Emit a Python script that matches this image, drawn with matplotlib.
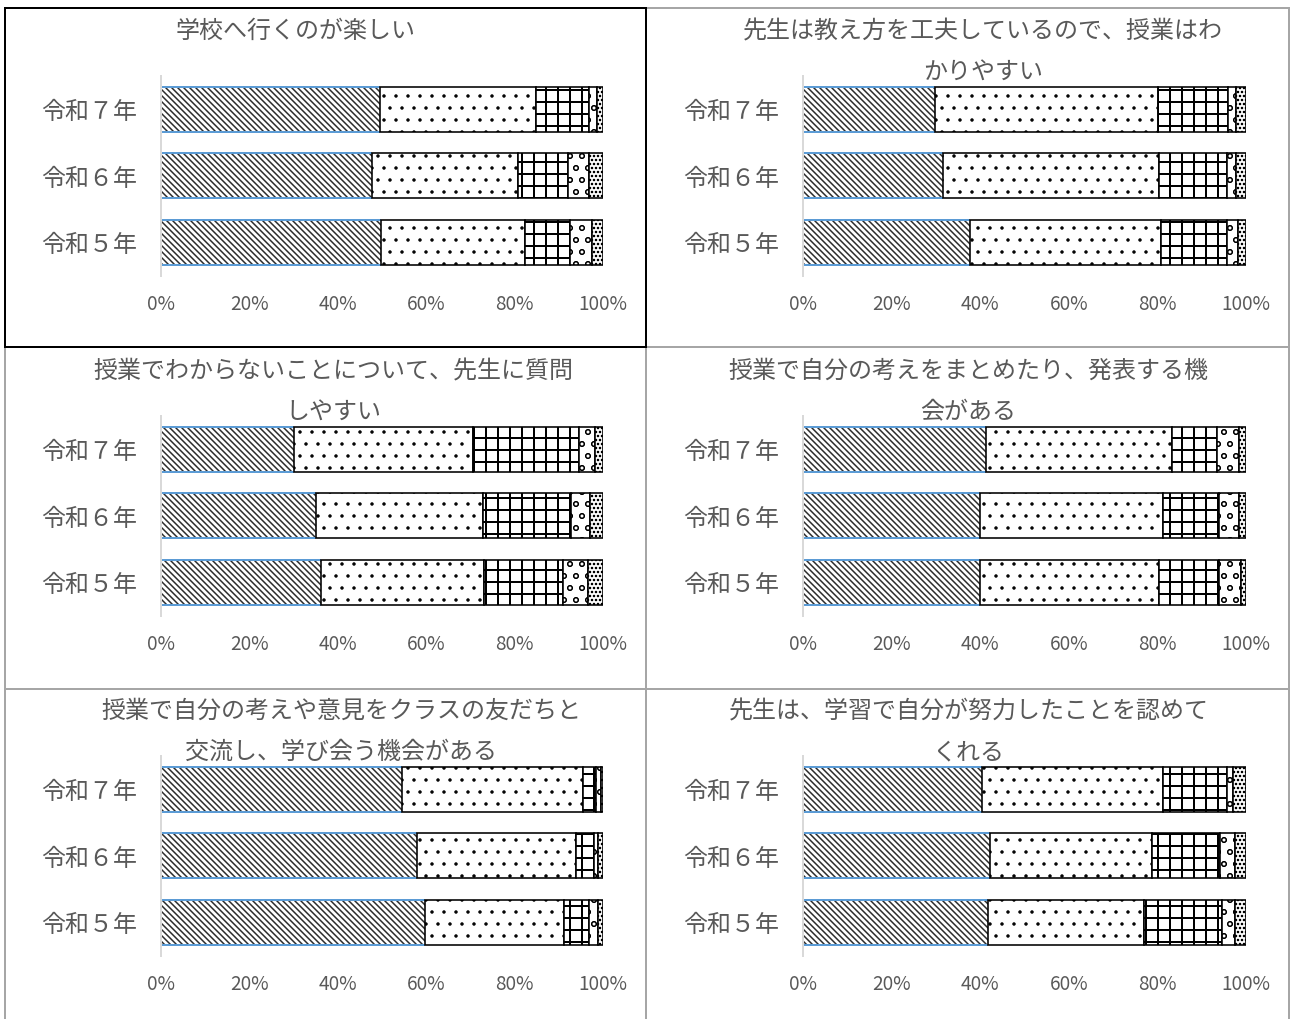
import matplotlib
matplotlib.use('Agg')
import matplotlib.pyplot as plt
from matplotlib.patches import Rectangle
import numpy as np

plt.rcParams['font.family'] = ['Noto Sans CJK JP', 'DejaVu Sans']
plt.rcParams['hatch.linewidth'] = 1.5

# ---------------- data ----------------
years = ['令和５年', '令和６年', '令和７年']          # bottom -> top
xticks = [0, 20, 40, 60, 80, 100]
xtick_labels = ['0%', '20%', '40%', '60%', '80%', '100%']

titles = [
    '学校へ行くのが楽しい',
    '先生は教え方を工夫しているので、授業はわ\nかりやすい',
    '授業でわからないことについて、先生に質問\nしやすい',
    '授業で自分の考えをまとめたり、発表する機\n会がある',
    '授業で自分の考えや意見をクラスの友だちと\n交流し、学び会う機会がある',
    '先生は、学習で自分が努力したことを認めて\nくれる',
]

# each: rows = 令和5, 令和6, 令和7 ; columns = 5 answer categories (%)
q1 = [[49.8, 32.5, 10.2, 4.9, 2.6],
      [47.7, 33.1, 11.3, 4.7, 3.2],
      [49.6, 35.3, 11.9, 1.8, 1.4]]
q2 = [[37.7, 43.0, 14.9, 2.7, 1.7],
      [31.6, 48.7, 15.3, 2.1, 2.3],
      [29.9, 50.2, 15.9, 1.8, 2.2]]
q3 = [[36.3, 36.8, 17.8, 5.7, 3.4],
      [35.1, 37.7, 20.0, 4.2, 3.0],
      [30.0, 40.6, 24.0, 3.5, 1.9]]
q4 = [[39.9, 40.5, 13.5, 4.9, 1.2],
      [39.9, 41.4, 12.6, 4.6, 1.5],
      [41.4, 41.8, 10.3, 5.0, 1.5]]
q5 = [[59.7, 31.5, 5.6, 2.1, 1.1],
      [58.0, 35.8, 4.2, 0.9, 1.1],
      [54.6, 40.9, 3.0, 1.1, 0.4]]
q6 = [[41.8, 35.2, 17.5, 3.0, 2.5],
      [42.2, 36.5, 15.4, 3.4, 2.5],
      [40.4, 40.8, 14.6, 1.2, 3.0]]
panels = [q1, q2, q3, q4, q5, q6]

# ---------------- styling ----------------
W, H, DPI = 1291, 1019, 72
TEXT = '#595959'
BLUE = '#5B9BD5'
hatches = ['\\\\\\\\', '.', '+', 'o', 'ooo']
hatch_edges = ['#2b2b2b', 'black', 'black', 'black', 'black']
hatch_lws = [1.5, 1.0, 2.0, 1.0, 0.8]
edge_lw = [0, 1.6, 1.6, 1.6, 1.6]
title_cx = [296, 983, 333, 968, 341, 969]

fig = plt.figure(figsize=(W / DPI, H / DPI), dpi=DPI)

def fx(px):
    return px / W

def fy(py):
    return 1 - py / H

col_x = [(161, 603), (803, 1246)]
bar_h = 0.67

for i, data in enumerate(panels):
    r, c = divmod(i, 2)
    off = 340 * r
    x0, x1 = col_x[c]
    top, bot = 76 + off, 275.5 + off
    ax = fig.add_axes([fx(x0), fy(bot), fx(x1 - x0), (bot - top) / H])
    arr = np.array(data)
    y = np.arange(len(years))
    left = np.zeros(len(years))
    for k in range(arr.shape[1]):
        with plt.rc_context({'hatch.linewidth': hatch_lws[k]}):
            bars = ax.barh(y, arr[:, k], left=left, height=bar_h, color='white',
                           edgecolor=hatch_edges[k], hatch=hatches[k],
                           linewidth=edge_lw[k], zorder=2 + k)
        for b in bars:
            if hasattr(b, 'set_hatch_linewidth'):
                b.set_hatch_linewidth(hatch_lws[k])
        if k == 0:
            ax.hlines(y + bar_h / 2, 0, arr[:, 0], color=BLUE, lw=2, zorder=2.5)
            ax.hlines(y - bar_h / 2, 0, arr[:, 0], color=BLUE, lw=2, zorder=2.5)
        left = left + arr[:, k]
    ax.set_xlim(0, 100)
    ax.set_ylim(-0.5, len(years) - 0.5)
    ax.set_yticks(y)
    ax.set_yticklabels(years, fontsize=24, color=TEXT)
    ax.set_xticks(xticks)
    ax.set_xticklabels(xtick_labels, fontsize=19, color=TEXT)
    ax.tick_params(axis='both', length=0)
    ax.tick_params(axis='y', pad=24)
    ax.tick_params(axis='x', pad=19)
    for s in ['top', 'right', 'bottom']:
        ax.spines[s].set_visible(False)
    ax.spines['left'].set_color('#D9D9D9')
    ax.spines['left'].set_linewidth(2)
    ax.spines['left'].set_zorder(10)
    ax.patch.set_alpha(0)

    lines = titles[i].split('\n')
    for j, ln in enumerate(lines):
        fig.text(fx(title_cx[i]), fy(31 + off + 41 * j), ln, ha='center', va='center',
                 fontsize=24, color=TEXT)

# panel borders
cols = [(5, 646), (646, 1289)]
rows = [(8, 347), (347, 689), (689, 1035)]
for (ya, yb) in rows:
    for (xa, xb) in cols:
        fig.add_artist(Rectangle((fx(xa), fy(yb)), fx(xb - xa), (yb - ya) / H,
                                 transform=fig.transFigure, fill=False,
                                 edgecolor='#A6A6A6', lw=2, zorder=20))
fig.add_artist(Rectangle((fx(5), fy(347)), fx(641), 339 / H,
                         transform=fig.transFigure, fill=False,
                         edgecolor='black', lw=2, zorder=21))

fig.savefig('out.png', dpi=DPI)
